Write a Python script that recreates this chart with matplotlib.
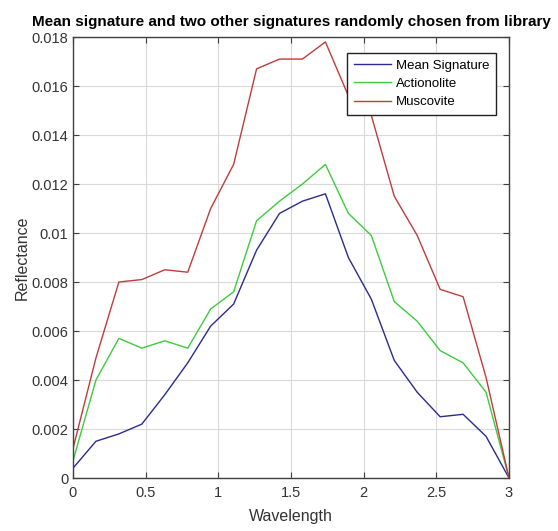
import numpy as np
import matplotlib
matplotlib.use("Agg")
import matplotlib.pyplot as plt
from matplotlib.ticker import FuncFormatter

plt.rcParams['font.family'] = ['Liberation Sans', 'DejaVu Sans']

# wavelength samples (20 bands, 0..3)
wavelength = np.linspace(0, 3, 20)

mean_signature = [0.0004, 0.0015, 0.0018, 0.0022, 0.0034, 0.0047, 0.0062, 0.0071,
                  0.0093, 0.0108, 0.0113, 0.0116, 0.0090, 0.0073, 0.0048, 0.0035,
                  0.0025, 0.0026, 0.0017, 0.0]
actionolite = [0.0007, 0.0040, 0.0057, 0.0053, 0.0056, 0.0053, 0.0069, 0.0076,
               0.0105, 0.0113, 0.0120, 0.0128, 0.0108, 0.0099, 0.0072, 0.0064,
               0.0052, 0.0047, 0.0035, 0.0]
muscovite = [0.0012, 0.0049, 0.0080, 0.0081, 0.0085, 0.0084, 0.0110, 0.0128,
             0.0167, 0.0171, 0.0171, 0.0178, 0.0156, 0.0148, 0.0115, 0.0099,
             0.0077, 0.0074, 0.0041, 0.0]

series_names = ['Mean Signature', 'Actionolite', 'Muscovite']
series_colors = ['#2b2b8f', '#3ccc3c', '#c23b3b']

xticks = [0, 0.5, 1, 1.5, 2, 2.5, 3]
yticks = np.arange(0, 0.0181, 0.002)


def main():
    fig = plt.figure(figsize=(5.58, 5.31), dpi=100)
    ax = fig.add_axes([0.1308, 0.0998, 0.7814, 0.8305])

    for ys, name, c in zip([mean_signature, actionolite, muscovite], series_names, series_colors):
        ax.plot(wavelength, ys, color=c, lw=1.0, label=name)

    ax.set_xlim(0, 3)
    ax.set_ylim(0, 0.018)
    ax.set_xticks(xticks)
    ax.set_yticks(yticks)
    ax.yaxis.set_major_formatter(FuncFormatter(lambda v, p: '%g' % round(v, 4)))
    ax.xaxis.set_major_formatter(FuncFormatter(lambda v, p: '%g' % v))

    ax.grid(True, color='#d9d9d9', lw=0.8)
    ax.set_axisbelow(True)
    ax.tick_params(direction='in', top=True, right=True, length=4,
                   colors='#404040', labelsize=10.5, labelcolor='#333333')
    ax.tick_params(axis='x', pad=6)
    for s in ax.spines.values():
        s.set_color('#404040')
        s.set_linewidth(1.0)

    ax.set_xlabel('Wavelength', fontsize=11.5, color='#333333', labelpad=6)
    ax.set_ylabel('Reflectance', fontsize=11.5, color='#333333', labelpad=1)
    ax.set_title('Mean signature and two other signatures randomly chosen from library',
                 fontsize=11, fontweight='bold', pad=8)

    leg = ax.legend(loc='upper right', bbox_to_anchor=(0.970, 0.9637), fancybox=False,
                    framealpha=1, edgecolor='#222222', fontsize=9.5,
                    handlelength=2.8, borderaxespad=0, labelspacing=0.45,
                    handletextpad=0.4, borderpad=0.5)
    leg.get_frame().set_linewidth(1.0)

    fig.savefig('out.png', dpi=100)


if __name__ == '__main__':
    main()
